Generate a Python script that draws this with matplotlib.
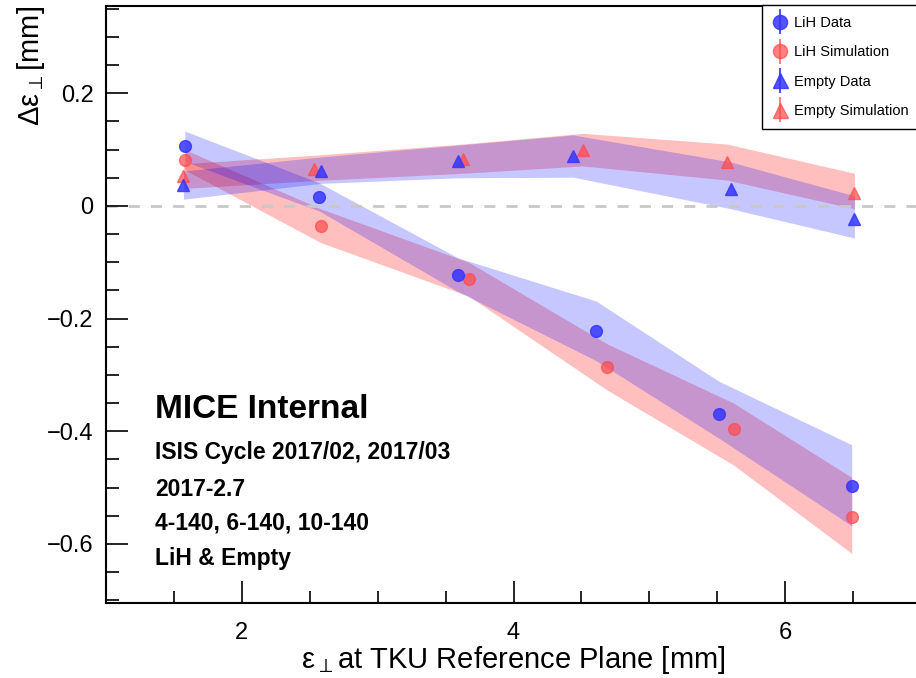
import matplotlib
matplotlib.use("Agg")
import matplotlib.pyplot as plt
import numpy as np
from matplotlib.ticker import MultipleLocator
from matplotlib.legend_handler import HandlerErrorbar
from matplotlib.container import ErrorbarContainer

plt.rcParams['font.family'] = ['Liberation Sans', 'DejaVu Sans']
plt.rcParams['mathtext.fontset'] = 'dejavusans'

# LiH data (blue circles) and its band
lih_data_x = [1.58, 2.57, 3.59, 4.61, 5.51, 6.49]
lih_data_y = [0.106, 0.016, -0.122, -0.222, -0.369, -0.497]
lih_data_hi = [0.133, 0.041, -0.092, -0.169, -0.311, -0.424]
lih_data_lo = [0.079, -0.009, -0.152, -0.275, -0.412, -0.568]

# LiH simulation (red circles) and its band
lih_sim_x = [1.58, 2.58, 3.67, 4.69, 5.62, 6.49]
lih_sim_y = [0.082, -0.035, -0.129, -0.286, -0.396, -0.553]
lih_sim_hi = [0.100, -0.005, -0.100, -0.245, -0.350, -0.482]
lih_sim_lo = [0.064, -0.065, -0.160, -0.327, -0.460, -0.617]

# Empty data (blue triangles) and its band
empty_data_x = [1.57, 2.58, 3.59, 4.44, 5.60, 6.51]
empty_data_y = [0.037, 0.062, 0.080, 0.089, 0.030, -0.023]
empty_data_hi = [0.062, 0.087, 0.108, 0.126, 0.078, 0.018]
empty_data_lo = [0.012, 0.040, 0.050, 0.051, -0.005, -0.057]

# Empty simulation (red triangles) and its band
empty_sim_x = [1.57, 2.53, 3.63, 4.51, 5.57, 6.51]
empty_sim_y = [0.053, 0.066, 0.083, 0.100, 0.078, 0.023]
empty_sim_hi = [0.075, 0.090, 0.110, 0.129, 0.110, 0.058]
empty_sim_lo = [0.031, 0.045, 0.058, 0.071, 0.046, -0.005]

info_lines = ["ISIS Cycle 2017/02, 2017/03", "2017-2.7",
              "4-140, 6-140, 10-140", "LiH & Empty"]
info_y_px = [452, 490, 523, 558]

BLUE = '#3535ff'
RED = '#ff4a4a'

fig = plt.figure(figsize=(9.16, 6.78), dpi=100)
ax = fig.add_axes([106 / 916, 75 / 678, (921 - 106) / 916, (603 - 6) / 678])

# error bands
ax.fill_between(lih_sim_x, lih_sim_lo, lih_sim_hi, color='red', alpha=0.25, lw=0)
ax.fill_between(empty_sim_x, empty_sim_lo, empty_sim_hi, color='red', alpha=0.25, lw=0)
ax.fill_between(lih_data_x, lih_data_lo, lih_data_hi, color='blue', alpha=0.22, lw=0)
ax.fill_between(empty_data_x, empty_data_lo, empty_data_hi, color='blue', alpha=0.22, lw=0)

ax.axhline(0, color='#c8c8c8', lw=2, ls=(0, (4, 4)), zorder=1)

# points (zero-size error bars so the legend shows the vertical bar)
zeros = np.zeros(6)
ax.errorbar(lih_data_x, lih_data_y, yerr=zeros, fmt='o', color=BLUE, ms=8.5,
            alpha=0.85, elinewidth=1.5, label='LiH Data', zorder=5)
ax.errorbar(lih_sim_x, lih_sim_y, yerr=zeros, fmt='o', color=RED, ms=8.5,
            alpha=0.7, elinewidth=1.5, label='LiH Simulation', zorder=4)
ax.errorbar(empty_data_x, empty_data_y, yerr=zeros, fmt='^', color=BLUE, ms=9,
            alpha=0.85, elinewidth=1.5, label='Empty Data', zorder=5)
ax.errorbar(empty_sim_x, empty_sim_y, yerr=zeros, fmt='^', color=RED, ms=9,
            alpha=0.7, elinewidth=1.5, label='Empty Simulation', zorder=4)

ax.set_xlim(1.0, 7.0)
ax.set_ylim(-0.705, 0.355)
ax.xaxis.set_major_locator(MultipleLocator(2))
ax.xaxis.set_minor_locator(MultipleLocator(0.5))
ax.yaxis.set_major_locator(MultipleLocator(0.2))
ax.yaxis.set_minor_locator(MultipleLocator(0.05))
ax.tick_params(which='both', direction='in', labelsize=17, width=1.2)
ax.tick_params(which='major', length=16)
ax.tick_params(which='minor', length=9)
ax.tick_params(axis='x', pad=14)
ax.tick_params(axis='y', pad=9)
ax.yaxis.set_major_formatter(plt.FuncFormatter(
    lambda v, p: '0' if abs(v) < 1e-9 else ('%g' % v).replace('-', '\u2212')))
for s in ax.spines.values():
    s.set_linewidth(1.5)

ax.set_xlabel('ε$_{\\perp}$at TKU Reference Plane [mm]', fontsize=21, labelpad=0)
ax.set_ylabel('Δε$_{\\perp}$[mm]', fontsize=21, loc='top', labelpad=0)

fig.text(155 / 916, 1 - 409 / 678, 'MICE Internal', fontsize=24,
         fontweight='bold', va='center', ha='left')
for line, ys in zip(info_lines, info_y_px):
    fig.text(155 / 916, 1 - ys / 678, line, fontsize=16.5, fontweight='bold',
             va='center', ha='left')

leg = ax.legend(loc='upper left', bbox_to_anchor=(762 / 916, 1 - 5 / 678),
                bbox_transform=fig.transFigure, fontsize=10.5, frameon=True,
                fancybox=False, edgecolor='black', framealpha=1,
                handlelength=0.9, handletextpad=0.55, labelspacing=1.05,
                borderpad=0.75, borderaxespad=0, markerscale=1.2,
                handler_map={ErrorbarContainer: HandlerErrorbar(yerr_size=0.85)})
leg.get_frame().set_linewidth(1.0)

fig.savefig('out.png', dpi=100)
